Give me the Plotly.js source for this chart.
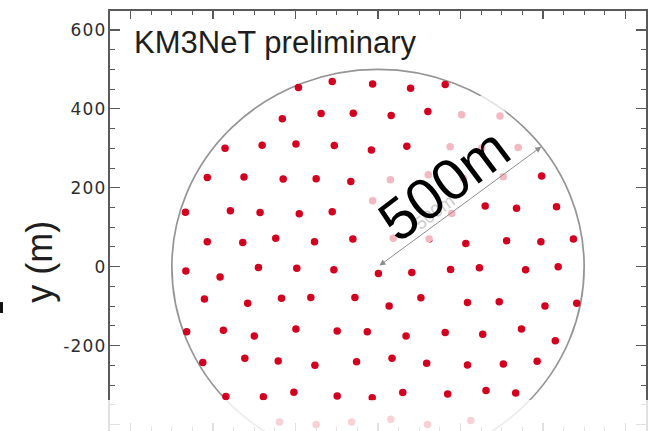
<!DOCTYPE html>
<html>
<head>
<meta charset="utf-8">
<script src="https://cdn.plot.ly/plotly-3.0.1.min.js"></script>
<style>
html,body{margin:0;padding:0;background:#fff;}
#chart{width:648px;height:431px;}
#chart .ytick text{letter-spacing:1.2px;}
</style>
</head>
<body>
<div id="chart"></div>
<script>
// Detection-unit positions (m)
const unitX = [
  -193, -111, -13, 79, 163,
  -232, -138, -60, 32, 121, 203, 296,
  -371, -281, -199, -106, -16, 70, 175, 252, 340,
  -414, -325, -230, -150, -66, 30, 122, 207, 304, 397,
  -467, -358, -286, -191, -111, -13, 179, 260, 336, 433,
  -414, -328, -248, -154, -61, 37, 124, 213, 312, 395, 474,
  -466, -383, -290, -197, -107, 1, 82, 176, 246, 358, 437,
  -421, -316, -234, -163, -56, 27, 104, 217, 294, 405, 482,
  -464, -375, -300, -199, -99, -26, 68, 163, 254, 348, 430,
  -425, -323, -242, -153, -52, 34, 118, 217, 304, 386,
  -369, -278, -204, -99, -14, 60, 169, 262, 334,
  -239, -150, -64, 31, 120, 225
];
const unitY = [
  454, 469, 463, 452, 462,
  375, 388, 389, 383, 393, 385, 382,
  300, 308, 311, 307, 296, 305, 304, 301, 302,
  226, 227, 222, 223, 216, 220, 233, 224, 228, 230,
  138, 142, 137, 134, 139, 167, 135, 154, 148, 152,
  63, 61, 72, 63, 70, 72, 70, 59, 66, 63, 70,
  -11, -26, -2, -4, -8, -17, -15, -7, -3, -8, 0,
  -82, -93, -80, -78, -78, -100, -79, -91, -89, -100, -93,
  -165, -161, -176, -158, -163, -165, -176, -167, -171, -158, -188,
  -243, -232, -239, -250, -241, -232, -245, -249, -247, -240,
  -329, -330, -318, -328, -332, -319, -323, -314, -320,
  -394, -400, -394, -387, -400, -390
];
const detectorRadius = 500;
const arrowTip = [396, 304];
const arrowTail = [0, 0];
const yTickVals = [-400, -200, 0, 200, 400, 600];
const yTickText = ['-400', '-200', '0', '200', '400', '600'];
const titleText = 'KM3NeT preliminary';
const yTitle = 'y (m)';
const radiusLabel = '500m';

const font = 'Liberation Sans, Arial, Helvetica, sans-serif';
const axisCol = '#5a5a5a';

const trace = {
  type: 'scatter', mode: 'markers',
  x: unitX, y: unitY,
  marker: {size: 7.5, color: '#d4001f', line: {width: 0}},
  hoverinfo: 'skip'
};

// faded band behind the big label (data coords)
const band = [[-67, 186], [269, 449], [395, 273], [60, 10]];
const bandPath = 'M ' + band.map(p => p[0] + ',' + p[1]).join(' L ') + ' Z';

const layout = {
  width: 648, height: 431,
  margin: {l: 110, r: 2, t: 11, b: 0, pad: 0},
  paper_bgcolor: '#ffffff', plot_bgcolor: '#ffffff',
  showlegend: false,
  font: {family: font, color: '#333'},
  xaxis: {
    range: [-650, 650], showgrid: false, zeroline: false,
    showline: true, linecolor: axisCol, linewidth: 2, mirror: 'allticks',
    ticks: 'inside', ticklen: 8, tickwidth: 1.2, tickcolor: axisCol,
    tick0: 0, dtick: 200, showticklabels: false,
    minor: {tick0: 0, dtick: 50, ticks: 'inside', ticklen: 4, tickwidth: 1, tickcolor: axisCol}
  },
  yaxis: {
    range: [-416.5, 648], showgrid: false, zeroline: false,
    showline: true, linecolor: axisCol, linewidth: 2, mirror: 'allticks',
    ticks: 'inside', ticklen: 10, tickwidth: 1.2, tickcolor: axisCol,
    tickmode: 'array', tickvals: yTickVals, ticktext: yTickText,
    tickfont: {family: 'DejaVu Sans, sans-serif', size: 17, color: '#2e2e2e'},
    ticklabelstandoff: -2,
    minor: {tickmode: 'linear', tick0: 0, dtick: 50, ticks: 'inside', ticklen: 5, tickwidth: 1, tickcolor: axisCol}
  },
  shapes: [
    {type: 'circle', xref: 'x', yref: 'y', x0: -detectorRadius, x1: detectorRadius,
     y0: -detectorRadius, y1: detectorRadius, layer: 'below',
     line: {color: '#959595', width: 1.7}},
    {type: 'path', xref: 'x', yref: 'y', path: bandPath, layer: 'above',
     fillcolor: 'rgba(255,255,255,0.72)', line: {width: 0}},
    {type: 'rect', xref: 'paper', yref: 'paper', x0: -0.115, x1: 1.01, y0: -0.02, y1: 0.074,
     layer: 'above', fillcolor: 'rgba(255,255,255,0.82)', line: {width: 0}},
    {type: 'rect', xref: 'paper', yref: 'paper', x0: -0.2052, x1: -0.1996, y0: 0.281, y1: 0.307,
     layer: 'above', fillcolor: '#111', line: {width: 0}}
  ],
  annotations: [
    {text: titleText, xref: 'paper', yref: 'paper', x: 0.041, y: 0.924,
     xanchor: 'left', yanchor: 'middle', showarrow: false,
     font: {family: font, size: 31, color: '#1e1e1e'}},
    {text: yTitle, xref: 'paper', yref: 'paper', x: -0.1305, y: 0.403,
     xanchor: 'center', yanchor: 'middle', showarrow: false, textangle: -90,
     font: {family: font, size: 36, color: '#1e1e1e'}},
    {text: '', xref: 'x', yref: 'y', x: arrowTip[0], y: arrowTip[1],
     axref: 'x', ayref: 'y', ax: arrowTail[0], ay: arrowTail[1],
     showarrow: true, arrowside: 'end+start', arrowhead: 2, startarrowhead: 2,
     arrowsize: 1.2, startarrowsize: 1.2, arrowwidth: 1, arrowcolor: '#8c8c8c',
     standoff: 0, startstandoff: 0},
    {text: radiusLabel, xref: 'paper', yref: 'paper', x: 0.6063, y: 0.5214,
     xanchor: 'center', yanchor: 'middle', showarrow: false, textangle: -37,
     font: {family: font, size: 18, color: '#cccccc'}},
    {text: radiusLabel, xref: 'paper', yref: 'paper', x: 0.6213, y: 0.588,
     xanchor: 'center', yanchor: 'middle', showarrow: false, textangle: -37,
     font: {family: font, size: 58, color: '#000000'}}
  ]
};

Plotly.newPlot('chart', [trace], layout, {staticPlot: true, displayModeBar: false});
</script>
</body>
</html>
